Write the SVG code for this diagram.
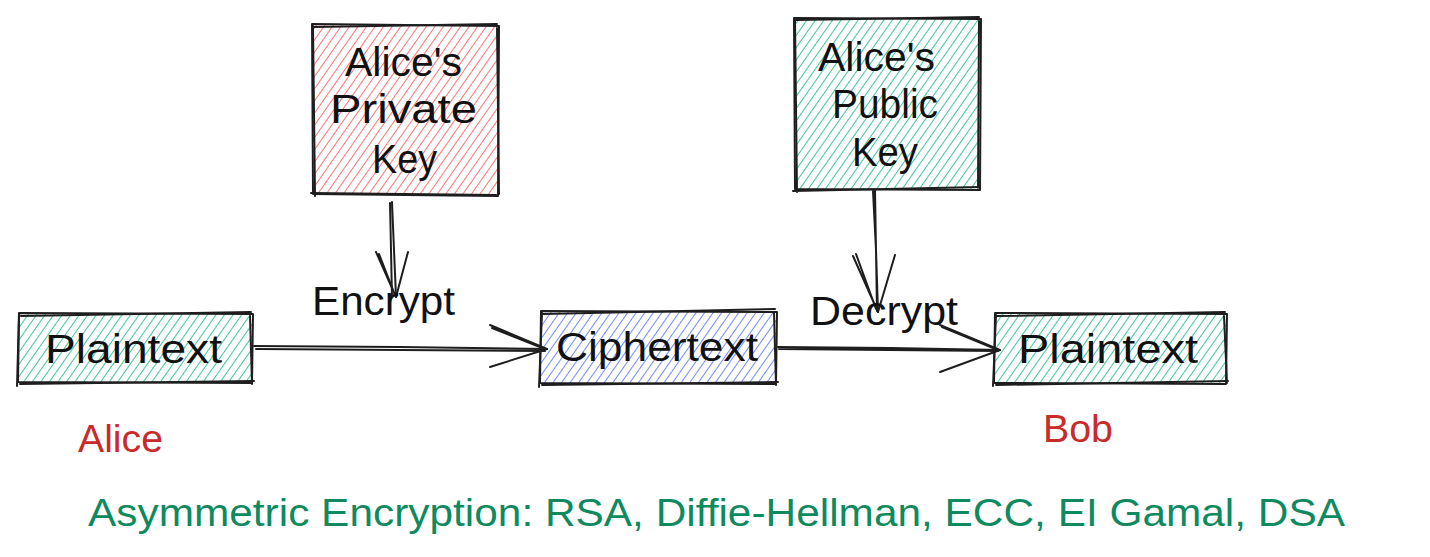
<svg xmlns="http://www.w3.org/2000/svg" width="1430" height="557" viewBox="0 0 1430 557">
<defs>
<pattern id="hGreen" width="7" height="8" patternUnits="userSpaceOnUse" patternTransform="rotate(35)">
<line x1="0" y1="0" x2="0" y2="8" stroke="#12b886" stroke-width="1.6"/>
</pattern>
<pattern id="hRed" width="7" height="8" patternUnits="userSpaceOnUse" patternTransform="rotate(35)">
<line x1="0" y1="0" x2="0" y2="8" stroke="#fa5252" stroke-width="1.6"/>
</pattern>
<pattern id="hBlue" width="7" height="8" patternUnits="userSpaceOnUse" patternTransform="rotate(35)">
<line x1="0" y1="0" x2="0" y2="8" stroke="#4c6ef5" stroke-width="1.6"/>
</pattern>
</defs>
<style>
.box{stroke:#1e1e1e;stroke-width:2;fill:none;stroke-linecap:round;stroke-linejoin:round}
.lbl{font-family:"Liberation Sans",Arial,sans-serif;font-size:40px;fill:#111111}
.edge{stroke:#1e1e1e;stroke-width:2;fill:none;stroke-linecap:round;stroke-linejoin:round}
.who{font-family:"Liberation Sans",Arial,sans-serif;font-size:38px;fill:#c92a2a}
.foot{font-family:"Liberation Sans",Arial,sans-serif;font-size:38px;fill:#0f8a5f}
</style>
<rect width="1430" height="557" fill="#ffffff"/>

<g id="private-key">
<rect x="313" y="25" width="185" height="170" fill="url(#hRed)"/>
<path class="box" d="M312 24 L499 26 L498 196 L313 194 Z"/>
<path class="box" d="M314 27 L497 24 M497 28 L499 194 M496 195 L311 193 M315 196 L313 26"/>
<text class="lbl" x="345" y="76" textLength="117" lengthAdjust="spacingAndGlyphs">Alice's</text>
<text class="lbl" x="330" y="123" textLength="147" lengthAdjust="spacingAndGlyphs">Private</text>
<text class="lbl" x="372" y="173" textLength="65" lengthAdjust="spacingAndGlyphs">Key</text>
</g>

<g id="public-key">
<rect x="795" y="19" width="185" height="170" fill="url(#hGreen)"/>
<path class="box" d="M794 18 L981 19 L980 190 L795 189 Z"/>
<path class="box" d="M796 20 L979 17 M979 21 L978 188 M980 187 L793 191 M797 192 L795 20"/>
<text class="lbl" x="818" y="71" textLength="117" lengthAdjust="spacingAndGlyphs">Alice's</text>
<text class="lbl" x="832" y="118" textLength="106" lengthAdjust="spacingAndGlyphs">Public</text>
<text class="lbl" x="852" y="166" textLength="66" lengthAdjust="spacingAndGlyphs">Key</text>
</g>

<g id="plaintext-alice">
<rect x="19" y="314" width="233" height="69" fill="url(#hGreen)"/>
<path class="box" d="M19 313 L253 314 L252 383 L18 382 Z"/>
<path class="box" d="M21 316 L251 312 M250 316 L252 384 M254 381 L20 384 M17 386 L19 315"/>
<text class="lbl" x="45" y="363" textLength="177" lengthAdjust="spacingAndGlyphs">Plaintext</text>
</g>

<g id="ciphertext">
<rect x="541" y="312" width="235" height="71" fill="url(#hBlue)"/>
<path class="box" d="M541 311 L777 312 L776 384 L540 383 Z"/>
<path class="box" d="M543 314 L775 309 M774 313 L776 385 M778 382 L542 385 M539 387 L542 313"/>
<text class="lbl" x="556" y="361" textLength="202" lengthAdjust="spacingAndGlyphs">Ciphertext</text>
</g>

<g id="plaintext-bob">
<rect x="995" y="314" width="231" height="70" fill="url(#hGreen)"/>
<path class="box" d="M995 313 L1227 314 L1226 384 L994 383 Z"/>
<path class="box" d="M997 316 L1225 312 M1224 316 L1227 383 M1228 381 L996 385 M993 386 L996 315"/>
<text class="lbl" x="1018" y="363" textLength="180" lengthAdjust="spacingAndGlyphs">Plaintext</text>
</g>

<g id="connectors">
<path class="edge" d="M392 202 L394 250 L396 297 M390 203 L392 297"/>
<path class="edge" d="M376 252 L396 297 L408 252 M379 254 L395 295"/>
<path class="edge" d="M254 346 L400 347 L547 349 M256 349 L545 351"/>
<path class="edge" d="M490 325 L547 349 L490 367 M492 328 L545 349"/>
<path class="edge" d="M873 191 L876 250 L878 312 M875 190 L877 311"/>
<path class="edge" d="M853 256 L878 312 L895 255 M856 254 L876 309"/>
<path class="edge" d="M778 347 L890 348 L1000 350 M779 349 L998 351"/>
<path class="edge" d="M940 325 L1000 350 L940 372 M942 327 L998 350"/>
</g>

<g id="labels">
<text class="lbl" x="312" y="315" textLength="143" lengthAdjust="spacingAndGlyphs">Encrypt</text>
<text class="lbl" x="810" y="325" textLength="148" lengthAdjust="spacingAndGlyphs">Decrypt</text>
<text class="who" x="78" y="452" textLength="85" lengthAdjust="spacingAndGlyphs">Alice</text>
<text class="who" x="1043" y="442" textLength="70" lengthAdjust="spacingAndGlyphs">Bob</text>
<text class="foot" x="88" y="526" textLength="1257" lengthAdjust="spacingAndGlyphs">Asymmetric Encryption: RSA, Diffie-Hellman, ECC, EI Gamal, DSA</text>
</g>
</svg>
